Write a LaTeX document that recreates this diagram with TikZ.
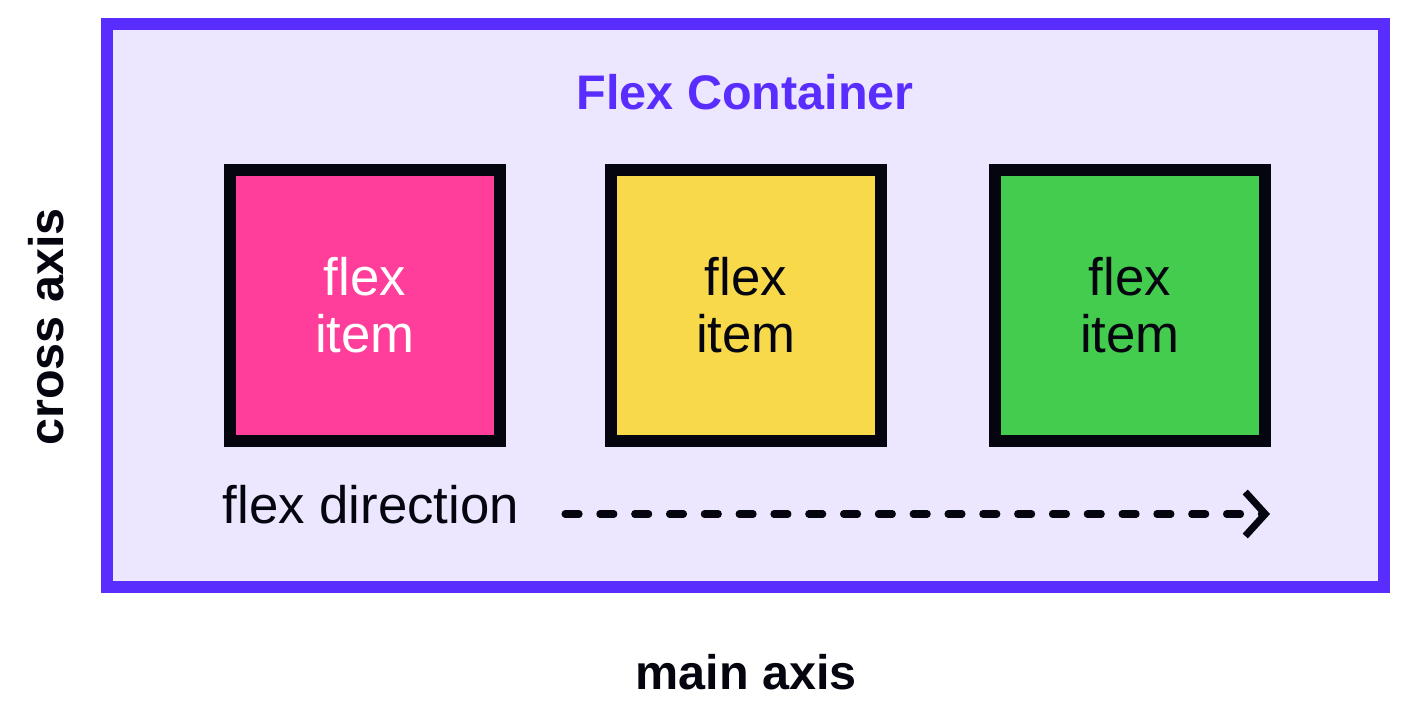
\documentclass[tikz,border=0pt]{standalone}
\usepackage{fontspec}
\setmainfont{Liberation Sans}
\usetikzlibrary{arrows.meta}
\definecolor{flexpurple}{HTML}{5A2DFF}
\definecolor{flexlav}{HTML}{ECE6FF}
\definecolor{flexpink}{HTML}{FF3D9A}
\definecolor{flexyellow}{HTML}{F8D94A}
\definecolor{flexgreen}{HTML}{44CC4F}
\definecolor{flexink}{HTML}{05050F}
\begin{document}
\begin{tikzpicture}[x = 0.01cm, y = -0.01cm,
                itembox/.style = {draw = flexink, line width = 3.4pt, minimum size = 2.7cm, inner sep = 0pt,
                    align = center, font = \fontsize{15}{16.2}\selectfont},
                boldlab/.style = {font = \fontsize{13.8}{16}\selectfont\bfseries, text = flexink},
                flowarrow/.style = {flexink, line width = 2pt, line cap = round, dash pattern = on 4pt off 5.9pt,
                    -{Straight Barb[length = 2mm, width = 4.4mm, line width = 2pt]}}]
                \useasboundingbox (0,0) rectangle (1401,703);
                \filldraw[draw = flexpurple, fill = flexlav, line width = 3.4pt] (107,24) rectangle (1384,587);
                \node[font = \fontsize{13.8}{16}\selectfont\bfseries, text = flexpurple] (title) at (745,92) {Flex Container};
                \node[itembox, fill = flexpink, text = white] (itemA) at (365,305.5) {flex\\item};
                \node[itembox, fill = flexyellow, text = flexink] (itemB) at (746,305.5) {flex\\item};
                \node[itembox, fill = flexgreen, text = flexink] (itemC) at (1130,305.5) {flex\\item};
                \node[font = \fontsize{15}{18}\selectfont, text = flexink] (dir) at (371,505) {flex direction};
                \coordinate (arrS) at (565,514);
                \coordinate (arrE) at (1270,514);
                \draw[flowarrow] (arrS) -- (arrE);
                \node[boldlab] (mainax) at (746,672) {main axis};
                \node[boldlab, rotate = 90] (crossax) at (46,327) {cross axis};
            \end{tikzpicture}
\end{document}
